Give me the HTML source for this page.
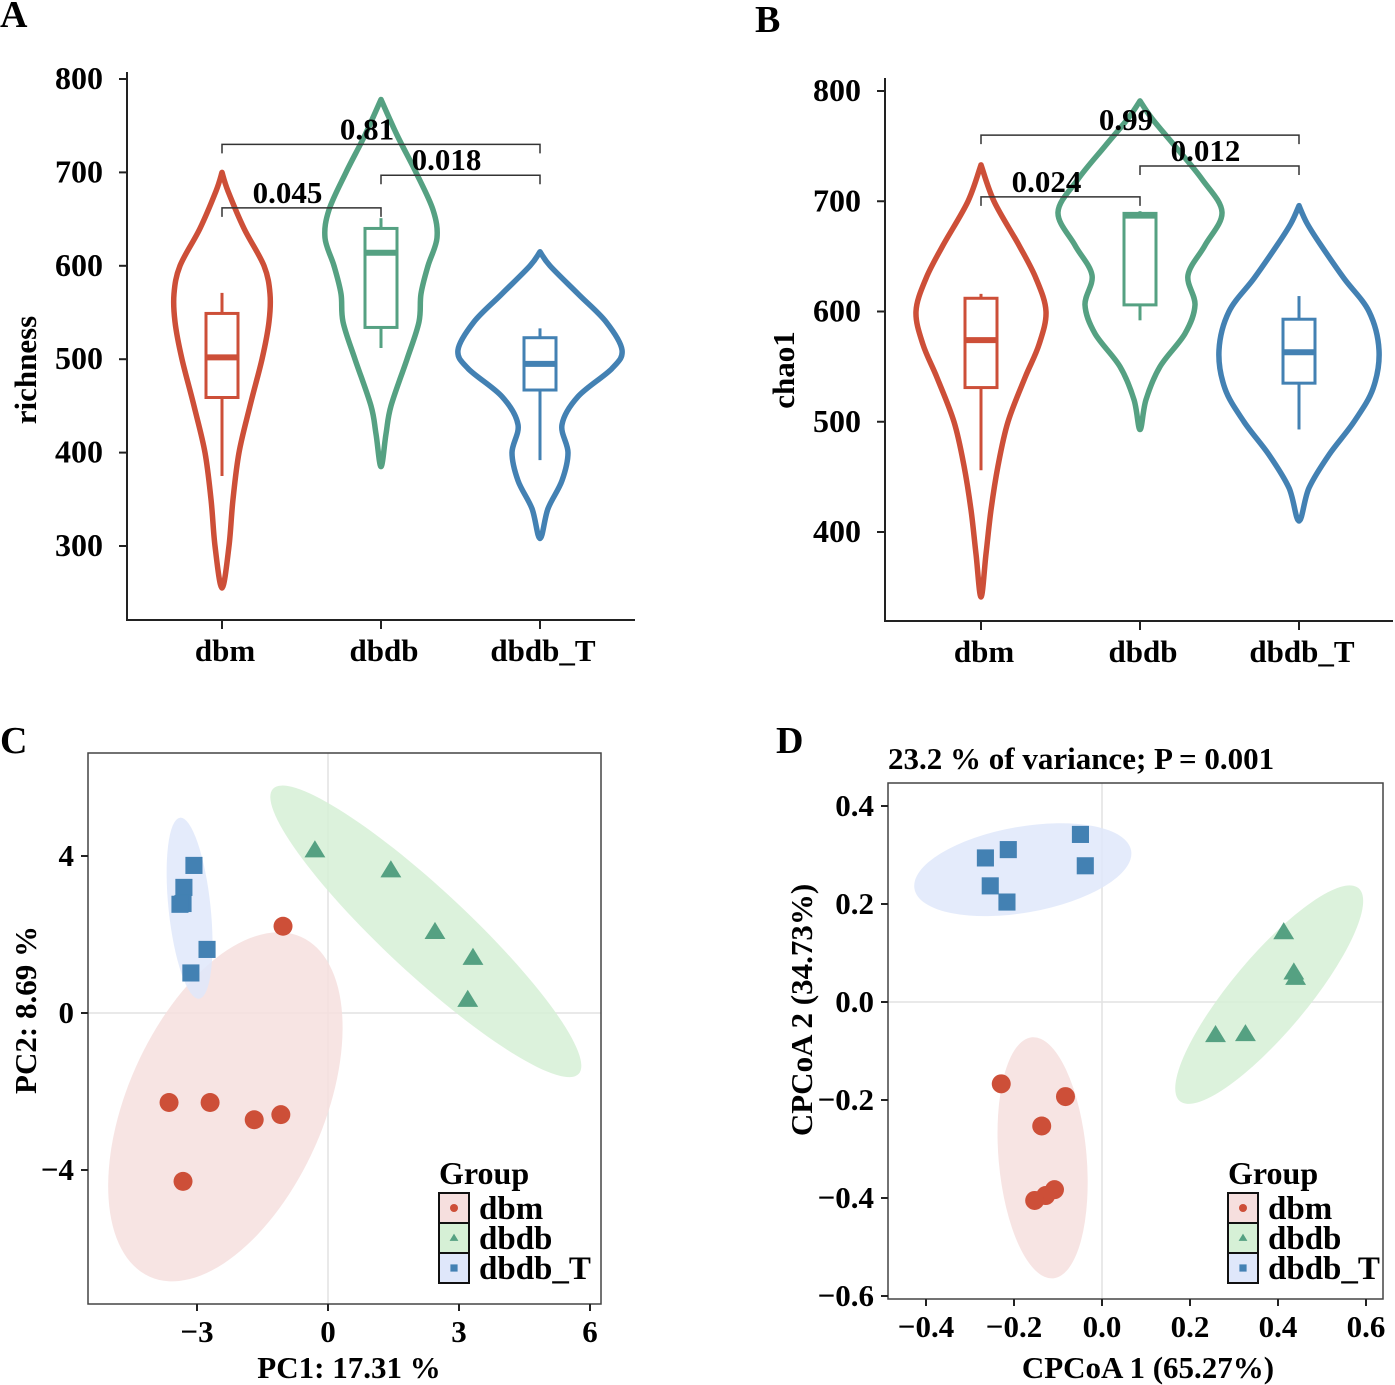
<!DOCTYPE html>
<html><head><meta charset="utf-8">
<style>
html,body{margin:0;padding:0;background:#fff;}
svg{display:block;font-family:"Liberation Serif",serif;font-weight:bold;}
</style></head>
<body>
<svg id="fig" width="1395" height="1385" viewBox="0 0 1395 1385" xmlns="http://www.w3.org/2000/svg"></svg>
<script>
// ---------- DATA ----------
const groups = ["dbm","dbdb","dbdb_T"];
const colors = ["#cd4f38","#55a182","#4381b3"];
const fills = ["#f6dfde","#d6f0d6","#dfe7fa"];

// Panel A: richness violins (value, density half-width)
const richVals = [
  [255,300,350,400,450,500,540,570,600,640,680,700],
  [385,420,450,500,540,570,600,630,660,700,740,778],
  [308,340,370,400,430,460,490,510,540,570,600,615]
];
const richDens = [
  [0,7,11,17,28,40,47,48,42,22,6,0],
  [0,5,10,26,38,40,47,56,52,35,16,0],
  [0,8,22,28,22,38,72,82,66,38,10,0]
];
const richBox = [ // whiskLo, q1, median, q3, whiskHi
  [375,459,502,549,571],
  [512,534,614,640,651],
  [392,467,495,523,533]
];
const richTicks = [300,400,500,600,700,800];
const richP = [["0.045",0,1,662],["0.018",1,2,697],["0.81",0,2,730]];

// Panel B: chao1
const chaoVals = [
  [341,380,420,460,500,540,570,600,630,660,700,733],
  [493,520,550,580,606,633,660,690,720,750,775,791],
  [410,440,470,500,530,565,600,630,660,680,696]
];
const chaoDens = [
  [0,5,10,17,27,44,58,65,55,38,13,0],
  [0,6,20,45,55,48,65,82,62,35,12,0],
  [0,10,30,55,74,80,70,45,22,8,0]
];
const chaoBox = [
  [456,531,574,612,616],
  [592,606,687,689,691],
  [493,535,563,593,614]
];
const chaoTicks = [400,500,600,700,800];
const chaoP = [["0.024",0,1,704],["0.012",1,2,732],["0.99",0,2,760]];

// Panel C: PCA
const pcaX = [
  [-1.03,-3.64,-2.70,-1.69,-1.08,-3.32],
  [-0.30,1.44,2.45,3.32,3.20],
  [-3.07,-3.30,-3.32,-3.39,-2.77,-3.14]
];
const pcaY = [
  [2.21,-2.28,-2.28,-2.72,-2.59,-4.29],
  [4.14,3.63,2.06,1.40,0.33],
  [3.76,3.20,2.79,2.77,1.62,1.02]
];
// ellipse: centerX, centerY (data), semi-major px, semi-minor px, rotation deg
const pcaEll = [[-2.35,-2.39,186,98,-66],[2.24,2.08,209,42,43],[-3.17,2.67,91,21,84]];
const pcaXTicks = [-3,0,3,6];
const pcaYTicks = [-4,0,4];

// Panel D: CPCoA
const cpX = [
  [-0.229,-0.083,-0.137,-0.108,-0.128,-0.153],
  [0.413,0.436,0.440,0.258,0.326],
  [-0.265,-0.213,-0.254,-0.216,-0.049,-0.038]
];
const cpY = [
  [-0.167,-0.193,-0.253,-0.383,-0.395,-0.405],
  [0.142,0.060,0.049,-0.068,-0.066],
  [0.294,0.311,0.237,0.204,0.342,0.278]
];
const cpEll = [[-0.135,-0.318,121,44,85],[0.38,0.015,139,38,-50],[-0.18,0.27,110,43,-10]];
const cpXTicks = [-0.4,-0.2,0.0,0.2,0.4,0.6];
const cpYTicks = [-0.6,-0.4,-0.2,0.0,0.2,0.4];

// ---------- HELPERS ----------
const NS="http://www.w3.org/2000/svg";
const svg=document.getElementById('fig');
function mk(tag,attrs,parent){const e=document.createElementNS(NS,tag);for(const k in attrs)e.setAttribute(k,attrs[k]);(parent||svg).appendChild(e);return e;}
function txt(s,x,y,size,anchor,parent,extra){const t=mk('text',Object.assign({x:x,y:y,'font-size':size,'text-anchor':anchor||'middle',fill:'#000'},extra||{}),parent);t.textContent=s;return t;}
function lin(a,b,c,d){return v=>c+(v-a)*(d-c)/(b-a);}
function smooth(pts){let d="M"+pts[0][0]+","+pts[0][1];for(let i=0;i<pts.length-1;i++){const p0=pts[Math.max(i-1,0)],p1=pts[i],p2=pts[i+1],p3=pts[Math.min(i+2,pts.length-1)];const c1=[p1[0]+(p2[0]-p0[0])/6,p1[1]+(p2[1]-p0[1])/6];const c2=[p2[0]-(p3[0]-p1[0])/6,p2[1]-(p3[1]-p1[1])/6];d+=" C"+c1[0].toFixed(1)+","+c1[1].toFixed(1)+" "+c2[0].toFixed(1)+","+c2[1].toFixed(1)+" "+p2[0].toFixed(1)+","+p2[1].toFixed(1);}return d;}

// ---------- VIOLIN PANELS ----------
function violinPanel(cfg){
  const g=mk('g',{});
  
  
  const y=lin(cfg.v0,cfg.v1,cfg.y0,cfg.y1);
  const ax=mk('path',{d:`M${cfg.axX},${cfg.top} V${cfg.bottom} H${cfg.right}`,stroke:'#222',fill:'none','stroke-width':2},g);
  
  
  cfg.ticks.forEach(t=>{
    mk('line',{x1:cfg.axX-8,x2:cfg.axX,y1:y(t),y2:y(t),stroke:'#222','stroke-width':2},g);
    const l=txt(String(t),cfg.axX-24,y(t)+10,32,'end',g);
    
    
  });
  const yt=txt(cfg.ylabel,0,0,31,'middle',g,{transform:`translate(${cfg.ylx},${cfg.yly}) rotate(-90)`});
  
  
  groups.forEach((gn,i)=>{
    const cx=cfg.cx[i];
    mk('line',{x1:cx,x2:cx,y1:cfg.bottom,y2:cfg.bottom+9,stroke:'#222','stroke-width':2},g);
    const xl=txt(gn,cx+3,cfg.bottom+41,31,'middle',g);
    
    
    const vals=cfg.vals[i],dens=cfg.dens[i];
    const right=[],left=[];
    for(let k=vals.length-1;k>=0;k--)right.push([cx+dens[k]*cfg.ws,y(vals[k])]);
    for(let k=0;k<vals.length;k++)left.push([cx-dens[k]*cfg.ws,y(vals[k])]);
    const pts=right.concat(left.slice(1));
    const p=mk('path',{d:smooth(pts)+"Z",fill:'none',stroke:colors[i],'stroke-width':5.5,'stroke-linejoin':'round'},g);
    
    
    const b=cfg.box[i],bw=cfg.bw;
    const bg=mk('g',{stroke:colors[i],fill:'none'},g);
    
    
    mk('line',{x1:cx,x2:cx,y1:y(b[0]),y2:y(b[1]),'stroke-width':3},bg);
    mk('line',{x1:cx,x2:cx,y1:y(b[3]),y2:y(b[4]),'stroke-width':3},bg);
    mk('rect',{x:cx-bw/2,y:y(b[3]),width:bw,height:y(b[1])-y(b[3]),'stroke-width':3,fill:'#fff'},bg);
    mk('line',{x1:cx-bw/2,x2:cx+bw/2,y1:y(b[2]),y2:y(b[2]),'stroke-width':6},bg);
  });
  cfg.p.forEach(pp=>{
    const x1=cfg.cx[pp[1]],x2=cfg.cx[pp[2]],yy=y(pp[3]);
    const br=mk('path',{d:`M${x1},${yy+9} V${yy} H${x2} V${yy+9}`,stroke:'#333',fill:'none','stroke-width':1.5},g);
    
    
    const l=txt(pp[0],(x1+x2)/2-14,yy-5,31,'middle',g);
    
    
  });
}
violinPanel({name:'panel-a-richness',v0:800,v1:300,y0:79,y1:546,axX:127,top:72,bottom:620,right:635,ticks:richTicks,cx:[222,381,540],vals:richVals,dens:richDens,box:richBox,ws:1,bw:32,ylabel:'richness',ylx:36,yly:370,p:richP});
violinPanel({name:'panel-b-chao1',v0:800,v1:400,y0:91,y1:532,axX:885,top:78,bottom:621,right:1393,ticks:chaoTicks,cx:[981,1140,1299],vals:chaoVals,dens:chaoDens,box:chaoBox,ws:1,bw:32,ylabel:'chao1',ylx:794,yly:370,p:chaoP});

// ---------- SCATTER PANELS ----------
function marker(g,kind,x,y,col,size){
  if(kind===0)return mk('circle',{cx:x,cy:y,r:size*0.5,fill:col},g);
  if(kind===1){const h=size*0.9,w=size*1.1;return mk('polygon',{points:`${x},${y-h*0.6} ${x-w/2},${y+h*0.4} ${x+w/2},${y+h*0.4}`,fill:col},g);}
  return mk('rect',{x:x-size*0.45,y:y-size*0.45,width:size*0.9,height:size*0.9,fill:col},g);
}
function scatterPanel(cfg){
  const g=mk('g',{});
  
  
  const X=lin(cfg.xd[0],cfg.xd[1],cfg.xp[0],cfg.xp[1]);
  const Y=lin(cfg.yd[0],cfg.yd[1],cfg.yp[0],cfg.yp[1]);
  const clip='clip-'+cfg.name;
  const cp=mk('clipPath',{id:clip},g);
  mk('rect',{x:cfg.L,y:cfg.T,width:cfg.R-cfg.L,height:cfg.B-cfg.T},cp);
  const inner=mk('g',{'clip-path':`url(#${clip})`},g);
  mk('line',{x1:X(0),x2:X(0),y1:cfg.T,y2:cfg.B,stroke:'#e2e2e2','stroke-width':1.5},inner);
  mk('line',{x1:cfg.L,x2:cfg.R,y1:Y(0),y2:Y(0),stroke:'#e2e2e2','stroke-width':1.5},inner);
  cfg.ell.forEach((e,i)=>{
    const el=mk('ellipse',{cx:0,cy:0,rx:e[2],ry:e[3],fill:fills[i],'fill-opacity':0.85,transform:`translate(${X(e[0])},${Y(e[1])}) rotate(${e[4]})`},inner);
    
    
  });
  groups.forEach((gn,i)=>{
    cfg.xs[i].forEach((xv,k)=>{
      const m=marker(inner,i,X(xv),Y(cfg.ys[i][k]),colors[i],cfg.ms);
      
      
    });
  });
  const fr=mk('rect',{x:cfg.L,y:cfg.T,width:cfg.R-cfg.L,height:cfg.B-cfg.T,fill:'none',stroke:'#444','stroke-width':1.5},g);
  
  
  cfg.xt.forEach(t=>{
    mk('line',{x1:X(t),x2:X(t),y1:cfg.B,y2:cfg.B+7,stroke:'#222','stroke-width':2},g);
    const l=txt(cfg.fmt(t),X(t),cfg.B+38,31,'middle',g);
    
    
  });
  cfg.yt.forEach(t=>{
    mk('line',{x1:cfg.L-7,x2:cfg.L,y1:Y(t),y2:Y(t),stroke:'#222','stroke-width':2},g);
    const l=txt(cfg.fmt(t),cfg.L-14,Y(t)+10,31,'end',g);
    
    
  });
  const xt=txt(cfg.xlabel,cfg.xlx,cfg.xly,31,'middle',g);
  
  
  const yt=txt(cfg.ylabel,0,0,31,'middle',g,{transform:`translate(${cfg.ylx},${cfg.yly}) rotate(-90)`});
  
  
  const lg=mk('g',{},g);
  
  
  txt('Group',cfg.lx,cfg.ly-9,32,'start',lg);
  groups.forEach((gn,i)=>{
    const ky=cfg.ly+i*30;
    const r=mk('rect',{x:cfg.lx,y:ky,width:30,height:30,fill:fills[i],stroke:'#111','stroke-width':2},lg);
    
    
    marker(lg,i,cfg.lx+15,ky+15,colors[i],8);
    const t=txt(gn,cfg.lx+40,ky+26,33,'start',lg);
    
    
  });
}
const fmtC=t=>(t<0?'\u2212':'')+Math.abs(t);
const fmtD=t=>(t<0?'\u2212':'')+Math.abs(t).toFixed(1);
scatterPanel({name:'panel-c-pca',xd:[0,3],xp:[328,459],yd:[0,4],yp:[1013,856],L:88,T:753,R:601,B:1304,xs:pcaX,ys:pcaY,ell:pcaEll,ms:19,xt:pcaXTicks,yt:pcaYTicks,fmt:fmtC,xlabel:'PC1: 17.31 %',xlx:349,xly:1378,ylabel:'PC2: 8.69 %',ylx:36,yly:1010,lx:439,ly:1193});
scatterPanel({name:'panel-d-cpcoa',xd:[0,0.2],xp:[1102,1190],yd:[0,0.2],yp:[1002,904],L:888,T:783,R:1383,B:1299,xs:cpX,ys:cpY,ell:cpEll,ms:19,xt:cpXTicks,yt:cpYTicks,fmt:fmtD,xlabel:'CPCoA 1 (65.27%)',xlx:1148,xly:1378,ylabel:'CPCoA 2 (34.73%)',ylx:812,yly:1010,lx:1228,ly:1193});

const dt=txt('23.2 % of variance; P = 0.001',888,769,31,'start');



[['A',0,27],['B',755,32],['C',0,753],['D',776,753]].forEach(l=>{
  const t=txt(l[0],l[1],l[2],38,'start');
  
  
});
</script>
</body></html>
